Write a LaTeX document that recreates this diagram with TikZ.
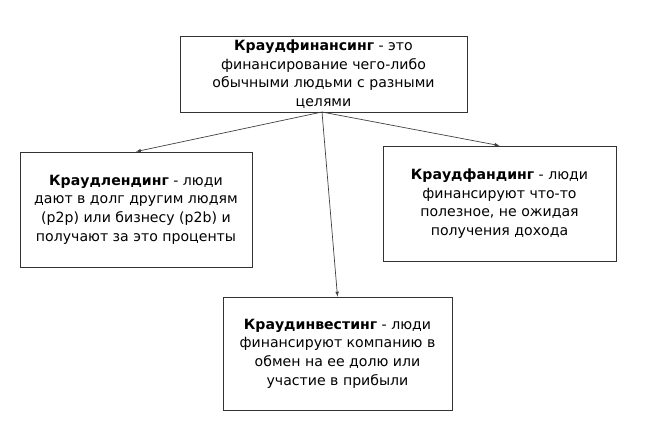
\documentclass[tikz,border=0pt]{standalone}
\usepackage{fontspec}
\setmainfont{DejaVu Sans}
\usetikzlibrary{positioning,arrows}

\tikzset{
  box/.style={draw=black!80, line width=0.8pt, align=center, inner sep=0pt,
    font=\fontsize{14.1}{18.6}\selectfont},
  link/.style={->, >=latex, draw=black!75, line width=0.7pt}
}

\begin{document}
\begin{tikzpicture}[x=1pt, y=-1pt]
  \useasboundingbox (0,0) rectangle (651,440);

  % main definition
  \node[box, minimum width=287pt, minimum height=76pt] (fin) at (323.5,74)
    {\textbf{Краудфинансинг} - это\\финансирование чего-либо\\обычными людьми с разными\\целями};

  % three kinds
  \node[box, minimum width=232pt, minimum height=115pt] (lend) at (136,209.5)
    {\textbf{Краудлендинг} - люди\\дают в долг другим людям\\(p2p) или бизнесу (p2b) и\\получают за это проценты};
  \node[box, minimum width=233pt, minimum height=115pt] (fund) at (499.5,203.5)
    {\textbf{Краудфандинг} - люди\\финансируют что-то\\полезное, не ожидая\\получения дохода};
  \node[box, minimum width=229pt, minimum height=113pt] (invest) at (337.5,353.5)
    {\textbf{Краудинвестинг} - люди\\финансируют компанию в\\обмен на ее долю или\\участие в прибыли};

  \coordinate (root) at (322,112);
  \draw[link] (root) -- (lend.north);
  \draw[link] (root) -- (fund.north);
  \draw[link] (root) -- (invest.north);
\end{tikzpicture}
\end{document}
